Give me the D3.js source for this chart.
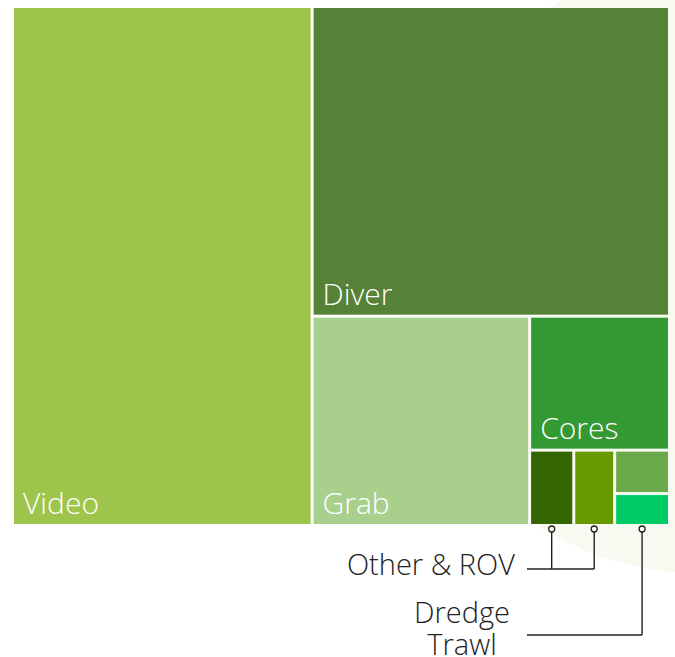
<!DOCTYPE html>
<html>
<head>
<meta charset="utf-8">
<script src="https://cdn.jsdelivr.net/npm/d3@7"></script>
<style>
  body { margin: 0; background: #fff; }
  text { font-family: "Open Sans", "Noto Sans", sans-serif; font-weight: 300; }
</style>
</head>
<body>
<div id="chart"></div>
<script>
// share of sampling effort by method
var methods = ["Video", "Diver", "Grab", "Cores", "Other", "ROV", "Dredge", "Trawl"];
var shares  = [44.4, 31.6, 13.0, 5.35, 0.95, 0.88, 0.68, 0.5];
var colors  = ["#9dc54b", "#568237", "#a8cf8c", "#339933", "#336600", "#669900", "#6aa84a", "#00cc66"];
var inside  = ["Video", "Diver", "Grab", "Cores"];   // labelled in the box

// callouts for the small boxes
var callouts = [
  {text: ["Other & ROV"], targets: ["Other", "ROV"], y: 569, textX: 515, anchor: "end", textY: 575},
  {text: ["Dredge", "Trawl"], targets: ["Trawl"], y: 635, textX: 462, anchor: "middle", textY: 623}
];

var W = 675, H = 657,
    box = {left: 14, top: 8, right: 668, bottom: 524};

var svg = d3.select("#chart").append("svg")
    .attr("width", W)
    .attr("height", H);

// faint watermark circle behind everything
svg.append("circle")
    .attr("cx", 700).attr("cy", 270).attr("r", 303)
    .attr("fill", "#f8faf2");

var data = {name: "all", children: methods.map(function(m, i) {
  return {name: m, value: shares[i], color: colors[i]};
})};

var root = d3.hierarchy(data)
    .sum(function(d) { return d.value || 0; })
    .sort(function(a, b) { return b.value - a.value; });

d3.treemap()
    .tile(d3.treemapSquarify.ratio(1))
    .size([box.right - box.left, box.bottom - box.top])
    .paddingInner(3)
    (root);

var g = svg.append("g")
    .attr("transform", "translate(" + box.left + "," + box.top + ")");

var cells = g.selectAll(".cell").data(root.leaves()).enter()
  .append("g").attr("class", "cell");

cells.append("rect")
    .attr("x", function(d) { return d.x0; })
    .attr("y", function(d) { return d.y0; })
    .attr("width", function(d) { return d.x1 - d.x0; })
    .attr("height", function(d) { return d.y1 - d.y0; })
    .attr("fill", function(d) { return d.data.color; });

cells.filter(function(d) { return inside.indexOf(d.data.name) >= 0; })
  .append("text")
    .attr("x", function(d) { return d.x0 + 9; })
    .attr("y", function(d) { return d.y1 - 10; })
    .attr("fill", "#fff")
    .style("font-size", "30px")
    .text(function(d) { return d.data.name; });

// callout lines
var byName = {};
root.leaves().forEach(function(d) { byName[d.data.name] = d; });
var lineX = 527;

callouts.forEach(function(c) {
  var xs = c.targets.map(function(t) {
    var n = byName[t];
    return box.left + (n.x0 + n.x1) / 2;
  });
  var topY = box.bottom + 5;
  svg.append("line")
      .attr("x1", lineX).attr("x2", d3.max(xs))
      .attr("y1", c.y).attr("y2", c.y)
      .attr("stroke", "#222").attr("stroke-width", 1.4);
  xs.forEach(function(x) {
    svg.append("line")
        .attr("x1", x).attr("x2", x)
        .attr("y1", topY + 3).attr("y2", c.y)
        .attr("stroke", "#222").attr("stroke-width", 1.4);
    svg.append("circle")
        .attr("cx", x).attr("cy", topY).attr("r", 3)
        .attr("fill", "#fff").attr("stroke", "#222").attr("stroke-width", 1.3);
  });
  c.text.forEach(function(t, i) {
    svg.append("text")
        .attr("x", c.textX)
        .attr("y", c.textY + i * 32)
        .attr("text-anchor", c.anchor)
        .attr("fill", "#222")
        .style("font-size", "29px")
        .text(t);
  });
});
</script>
</body>
</html>
